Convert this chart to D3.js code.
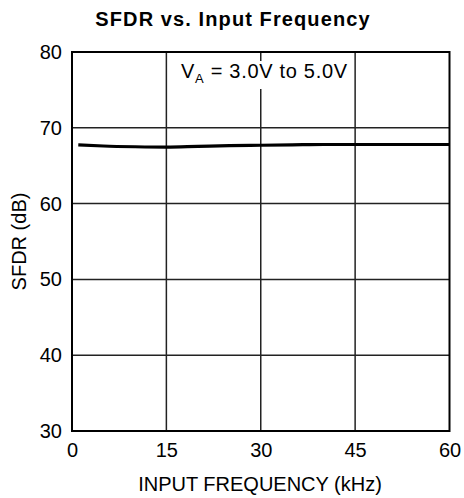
<!DOCTYPE html>
<html>
<head>
<meta charset="utf-8">
<script src="https://cdn.jsdelivr.net/npm/d3@7"></script>
<style>
  html, body { margin: 0; padding: 0; background: #fff; }
  svg { display: block; font-family: Arial, "Liberation Sans", Helvetica, sans-serif; }
</style>
</head>
<body>
<svg id="chart" width="464" height="498"></svg>
<script>
// SFDR measured across input frequency (supply 3.0 V to 5.0 V)
const freqKHz = [1, 5, 10, 15, 20, 25, 30, 35, 40, 45, 50, 55, 60];
const sfdrDb  = [67.75, 67.6, 67.5, 67.45, 67.55, 67.65, 67.7, 67.75, 67.8, 67.8, 67.8, 67.8, 67.8];
const xTicks = [0, 15, 30, 45, 60];
const yTicks = [30, 40, 50, 60, 70, 80];

const svg = d3.select("#chart");
const margin = { left: 72, right: 14.5, top: 52, bottom: 67 };
const W = 464, H = 498;

const x = d3.scaleLinear().domain([0, 60]).range([margin.left, W - margin.right]);
const y = d3.scaleLinear().domain([30, 80]).range([H - margin.bottom, margin.top]);

// grid
const grid = svg.append("g").attr("stroke", "#222").attr("stroke-width", 1.5);
grid.selectAll(".vx").data(xTicks.slice(1, -1)).join("line")
  .attr("x1", d => x(d)).attr("x2", d => x(d))
  .attr("y1", y(80)).attr("y2", y(30));
grid.selectAll(".hy").data(yTicks.slice(1, -1)).join("line")
  .attr("x1", x(0)).attr("x2", x(60))
  .attr("y1", d => y(d)).attr("y2", d => y(d));

// supply-range note on a white backdrop
const note = svg.append("g");
note.append("rect")
  .attr("x", 177).attr("y", 61).attr("width", 175).attr("height", 28)
  .attr("fill", "#fff");
const noteText = note.append("text")
  .attr("x", 181).attr("y", 78)
  .attr("font-size", 20).attr("letter-spacing", 0.7).attr("fill", "#000");
noteText.append("tspan").text("V");
noteText.append("tspan").attr("font-size", 13).attr("dy", 5).text("A");
noteText.append("tspan").attr("dy", -5).text(" = 3.0V to 5.0V");

// frame
svg.append("rect")
  .attr("x", x(0)).attr("y", y(80))
  .attr("width", x(60) - x(0)).attr("height", y(30) - y(80))
  .attr("fill", "none").attr("stroke", "#000").attr("stroke-width", 2);

// data curve
const line = d3.line().x((d, i) => x(freqKHz[i])).y(d => y(d)).curve(d3.curveMonotoneX);
svg.append("path")
  .datum(sfdrDb)
  .attr("d", line)
  .attr("fill", "none").attr("stroke", "#000").attr("stroke-width", 3.2);

// axes (labels only)
const xAxis = d3.axisBottom(x).tickValues(xTicks).tickSize(0).tickPadding(12);
const gx = svg.append("g").attr("transform", `translate(0,${y(30)})`).call(xAxis);
gx.select(".domain").remove();
gx.selectAll("text").attr("font-size", 20).attr("font-family", null).attr("fill", "#000");

const yAxis = d3.axisLeft(y).tickValues(yTicks).tickSize(0).tickPadding(10);
const gy = svg.append("g").attr("transform", `translate(${x(0)},0)`).call(yAxis);
gy.select(".domain").remove();
gy.selectAll("text").attr("font-size", 20).attr("font-family", null).attr("fill", "#000");

// titles
svg.append("text")
  .attr("x", 233).attr("y", 26)
  .attr("text-anchor", "middle")
  .attr("font-size", 20).attr("font-weight", "bold")
  .attr("letter-spacing", 1.1)
  .text("SFDR vs. Input Frequency");

svg.append("text")
  .attr("x", 260).attr("y", 491)
  .attr("text-anchor", "middle")
  .attr("font-size", 20)
  .text("INPUT FREQUENCY (kHz)");

svg.append("text")
  .attr("transform", `translate(26,${(y(30) + y(80)) / 2}) rotate(-90)`)
  .attr("text-anchor", "middle")
  .attr("font-size", 20)
  .text("SFDR (dB)");
</script>
</body>
</html>
